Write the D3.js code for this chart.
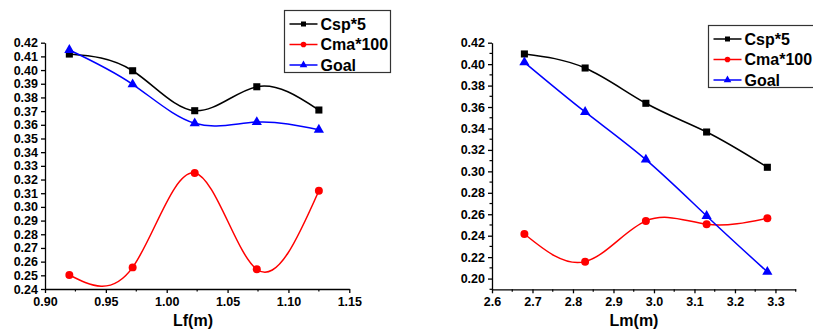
<!DOCTYPE html>
<html>
<head>
<meta charset="utf-8">
<script src="https://cdn.jsdelivr.net/npm/d3@7"></script>
<style>
  body { margin: 0; background: #fff; }
  svg { display: block; font-family: Arial, "Liberation Sans", sans-serif; }
  .tick text { font-weight: bold; font-size: 12.5px; fill: #000; }
  .domain, .tick line { stroke: #000; stroke-width: 1.3; }
</style>
</head>
<body>
<svg id="chart" width="813" height="331"></svg>
<script>
// left panel: Lf
var lfX = [0.92, 0.972, 1.023, 1.074, 1.125];
var lfCsp = [0.4117, 0.3995, 0.3703, 0.3878, 0.3708];
var lfCma = [0.2502, 0.2558, 0.3248, 0.2544, 0.3118];
var lfGoal = [0.4147, 0.3896, 0.3611, 0.3620, 0.3564];
var lfXTicks = [0.90, 0.95, 1.00, 1.05, 1.10, 1.15];

// right panel: Lm
var lmX = [2.68, 2.83, 2.98, 3.13, 3.28];
var lmCsp = [0.4095, 0.3964, 0.3635, 0.3367, 0.3038];
var lmCma = [0.2416, 0.2158, 0.2538, 0.2507, 0.2563];
var lmGoal = [0.4017, 0.3554, 0.3109, 0.2584, 0.2062];

var seriesNames = ['Csp*5', 'Cma*100', 'Goal'];
var colors = ['#000000', '#ff0000', '#0000ff'];
var symbols = [d3.symbolSquare, d3.symbolCircle, d3.symbolTriangle];

var svg = d3.select('#chart');

function drawPanel(opt) {
  var x = d3.scaleLinear().domain(opt.xDomain).range(opt.xRange);
  var y = d3.scaleLinear().domain(opt.yDomain).range(opt.yRange);
  var g = svg.append('g');

  // minor ticks
  g.selectAll('.xminor')
    .data(opt.xMinor).enter().append('line')
    .attr('x1', d => x(d)).attr('x2', d => x(d))
    .attr('y1', opt.yRange[0]).attr('y2', opt.yRange[0] + 2.5)
    .attr('stroke', '#000').attr('stroke-width', 1.2);
  g.selectAll('.yminor')
    .data(opt.yMinor).enter().append('line')
    .attr('y1', d => y(d)).attr('y2', d => y(d))
    .attr('x1', opt.xRange[0]).attr('x2', opt.xRange[0] - 2.5)
    .attr('stroke', '#000').attr('stroke-width', 1.2);

  g.append('g')
    .attr('transform', 'translate(0,' + opt.yRange[0] + ')')
    .call(d3.axisBottom(x).tickValues(opt.xTicks).tickSize(4).tickSizeOuter(0)
      .tickPadding(4).tickFormat(d3.format(opt.xFormat)));
  g.append('g')
    .attr('transform', 'translate(' + opt.xRange[0] + ',0)')
    .call(d3.axisLeft(y).tickValues(opt.yTicks).tickSize(4).tickSizeOuter(0)
      .tickPadding(3).tickFormat(d3.format('.2f')));

  g.append('text')
    .attr('x', opt.labelX).attr('y', 326)
    .attr('text-anchor', 'middle')
    .attr('font-size', 16).attr('font-weight', 'bold')
    .text(opt.xLabel);

  // curves
  opt.series.forEach((vals, i) => {
    var pts = vals.map((v, j) => [opt.xs[j], v]);
    g.append('path')
      .attr('d', d3.line().curve(d3.curveNatural).x(d => x(d[0])).y(d => y(d[1]))(pts))
      .attr('fill', 'none').attr('stroke', colors[i]).attr('stroke-width', 1.5);
    g.selectAll('.m' + i)
      .data(pts).enter().append('path')
      .attr('transform', d => 'translate(' + x(d[0]) + ',' + y(d[1]) + ')')
      .attr('d', d3.symbol().type(symbols[i]).size(i === 2 ? 45 : 50))
      .attr('fill', colors[i]);
  });

  // legend
  var lg = g.append('g').attr('transform', 'translate(' + opt.legend[0] + ',' + opt.legend[1] + ')');
  lg.append('rect')
    .attr('width', opt.legendW).attr('height', 62)
    .attr('fill', '#fff').attr('stroke', '#333').attr('stroke-width', 1.2);
  seriesNames.forEach((name, i) => {
    var yy = 13.5 + i * 20.5;
    lg.append('line')
      .attr('x1', 5).attr('x2', 33).attr('y1', yy).attr('y2', yy)
      .attr('stroke', colors[i]).attr('stroke-width', 1.5);
    lg.append('path')
      .attr('transform', 'translate(19,' + yy + ')')
      .attr('d', d3.symbol().type(symbols[i]).size(25))
      .attr('fill', colors[i]);
    lg.append('text')
      .attr('x', 36).attr('y', yy + 5.5)
      .attr('font-size', 16).attr('font-weight', 'bold')
      .text(name);
  });
}

drawPanel({
  xDomain: [0.90, 1.15], xRange: [45, 349.3],
  yDomain: [0.24, 0.42], yRange: [289, 42.7],
  xTicks: lfXTicks, xFormat: '.2f',
  xMinor: d3.range(0.925, 1.15, 0.05),
  yTicks: d3.range(0.24, 0.4201, 0.01),
  yMinor: [],
  xs: lfX, series: [lfCsp, lfCma, lfGoal],
  xLabel: 'Lf(m)', labelX: 193,
  legend: [284.5, 10.5], legendW: 106
});

drawPanel({
  xDomain: [2.6, 3.35], xRange: [492, 795.7],
  yDomain: [0.19, 0.42], yRange: [289.3, 42.7],
  xTicks: d3.range(2.6, 3.31, 0.1), xFormat: '.1f',
  xMinor: d3.range(2.65, 3.36, 0.1),
  yTicks: d3.range(0.20, 0.4201, 0.02),
  yMinor: d3.range(0.19, 0.42, 0.02),
  xs: lmX, series: [lmCsp, lmCma, lmGoal],
  xLabel: 'Lm(m)', labelX: 634,
  legend: [708.5, 25.5], legendW: 110
});
</script>
</body>
</html>
